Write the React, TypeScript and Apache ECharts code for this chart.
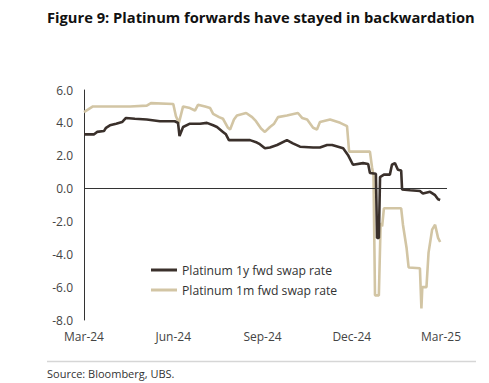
import React, { useEffect, useRef } from "react";
import * as echarts from "echarts";

// x positions in months since Mar-24 (0 = Mar-24, 12 = Mar-25)
const tickLabels = ["Mar-24", "Jun-24", "Sep-24", "Dec-24", "Mar-25"];

const fwd1yX = [0, 0.34, 0.44, 0.67, 0.74, 0.87, 1.08, 1.28, 1.41, 1.71, 2.11, 2.55, 3.05, 3.16, 3.21, 3.33, 3.56, 3.9, 4.13, 4.34, 4.47, 4.67, 4.77, 4.87, 5.34, 5.58, 5.81, 5.91, 6.08, 6.25, 6.49, 6.82, 7.02, 7.26, 7.7, 7.93, 8.17, 8.34, 8.71, 8.87, 9.04, 9.38, 9.55, 9.61, 9.81, 9.85, 9.91, 9.95, 10.08, 10.28, 10.35, 10.45, 10.55, 10.66, 10.69, 10.96, 11.29, 11.39, 11.63, 11.8, 11.9, 11.97];
const fwd1yY = [3.3, 3.3, 3.45, 3.5, 3.7, 3.85, 3.95, 4.05, 4.3, 4.25, 4.2, 4.1, 4.1, 4.0, 3.2, 3.75, 3.95, 3.95, 4.0, 3.85, 3.75, 3.45, 3.3, 2.95, 2.95, 2.95, 2.8, 2.7, 2.45, 2.5, 2.65, 2.95, 2.75, 2.55, 2.5, 2.5, 2.65, 2.65, 2.45, 2.05, 1.45, 1.55, 1.5, 0.95, 0.9, -3.0, -3.0, 0.7, 0.85, 0.85, 1.45, 1.55, 1.15, 1.1, -0.05, -0.1, -0.15, -0.3, -0.2, -0.4, -0.65, -0.7];

const fwd1mX = [0, 0.13, 0.3, 0.87, 1.55, 2.11, 2.25, 3.0, 3.09, 3.19, 3.33, 3.56, 3.73, 3.83, 4.07, 4.24, 4.34, 4.54, 4.67, 4.84, 4.91, 5.04, 5.14, 5.45, 5.65, 5.78, 5.95, 6.08, 6.25, 6.39, 6.52, 6.82, 7.19, 7.33, 7.5, 7.7, 7.83, 7.93, 8.27, 8.61, 8.84, 8.91, 9.61, 9.68, 9.73, 9.78, 9.91, 9.97, 10.02, 10.08, 10.66, 10.72, 10.84, 10.91, 11.29, 11.34, 11.37, 11.51, 11.58, 11.7, 11.8, 11.9, 11.97];
const fwd1mY = [4.65, 4.8, 5.0, 5.0, 5.0, 5.05, 5.2, 5.15, 4.4, 4.0, 5.0, 4.9, 4.75, 5.1, 5.0, 4.9, 4.55, 4.35, 4.25, 3.7, 3.6, 4.2, 4.45, 4.6, 4.35, 4.1, 3.65, 3.45, 3.75, 3.95, 4.35, 4.45, 4.6, 4.3, 4.2, 3.7, 3.6, 4.05, 4.2, 4.0, 3.8, 2.25, 2.25, 1.3, 0.8, -6.5, -6.5, -2.1, -2.3, -1.2, -1.2, -2.2, -3.6, -4.8, -4.85, -7.3, -6.0, -6.0, -3.9, -2.5, -2.2, -3.0, -3.25];

const seriesNames = ["Platinum 1y fwd swap rate", "Platinum 1m fwd swap rate"];

const FONT = "'Open Sans', 'DejaVu Sans', sans-serif";

export default function App() {
  const ref = useRef<HTMLDivElement>(null);
  useEffect(() => {
    if (!ref.current) return;
    const chart = echarts.init(ref.current, null, { renderer: "svg" });
    const pairs = (xs: number[], ys: number[]) => xs.map((x, i) => [x, ys[i]]);
    chart.setOption({
      animation: false,
      backgroundColor: "#ffffff",
      textStyle: { fontFamily: FONT },
      title: {
        text: "Figure 9: Platinum forwards have stayed in backwardation",
        left: 42,
        top: 4,
        textStyle: { fontFamily: FONT, fontSize: 14.7, fontWeight: "bold", color: "#111111" },
      },
      grid: { left: 84, right: 42, top: 90, bottom: 63 },
      legend: {
        orient: "vertical",
        left: 146,
        top: 259,
        itemWidth: 26,
        itemHeight: 3,
        itemGap: 8,
        icon: "rect",
        textStyle: { fontFamily: FONT, fontSize: 12.2, color: "#333333" },
        data: seriesNames,
      },
      xAxis: {
        type: "value",
        min: 0,
        max: 12.2,
        interval: 3,
        axisLine: { show: false },
        axisTick: { show: false },
        splitLine: { show: false },
        axisLabel: {
          showMaxLabel: false,
          margin: 10,
          fontFamily: FONT,
          fontSize: 12,
          color: "#444444",
          formatter: (v: number) => {
            const i = Math.round(v / 3);
            return Math.abs(v - i * 3) < 1e-6 && tickLabels[i] ? tickLabels[i] : "";
          },
        },
      },
      yAxis: {
        type: "value",
        min: -8,
        max: 6,
        interval: 2,
        axisLine: { show: true, onZero: false, lineStyle: { color: "#333333", width: 1 } },
        axisTick: { show: false },
        splitLine: { show: false },
        axisLabel: {
          margin: 11,
          fontFamily: FONT,
          fontSize: 12,
          color: "#444444",
          formatter: (v: number) => v.toFixed(1),
        },
      },
      series: [
        {
          name: seriesNames[1],
          type: "line",
          data: pairs(fwd1mX, fwd1mY),
          showSymbol: false,
          symbol: "none",
          lineStyle: { color: "#d2c5a4", width: 2.6 },
          itemStyle: { color: "#d2c5a4" },
          z: 2,
        },
        {
          name: seriesNames[0],
          type: "line",
          data: pairs(fwd1yX, fwd1yY),
          showSymbol: false,
          symbol: "none",
          lineStyle: { color: "#3a302b", width: 2.6 },
          itemStyle: { color: "#3a302b" },
          z: 3,
          markLine: {
            silent: true,
            symbol: "none",
            label: { show: false },
            lineStyle: { color: "#333333", width: 1, type: "solid" },
            data: [{ yAxis: 0 }],
          },
        },
      ],
      graphic: [
        {
          type: "line",
          shape: { x1: 47, y1: 361.5, x2: 476, y2: 361.5 },
          style: { stroke: "#d6d6d6", lineWidth: 1.5 },
        },
        {
          type: "text",
          left: 47,
          top: 368,
          style: { text: "Source: Bloomberg, UBS.", fontFamily: FONT, fontSize: 11, fill: "#333333" },
        },
      ],
    });
    return () => chart.dispose();
  }, []);
  return (
    <div
      ref={ref}
      style={{ position: "fixed", left: 0, top: 0, width: 489, height: 383, background: "#fff" }}
    />
  );
}
